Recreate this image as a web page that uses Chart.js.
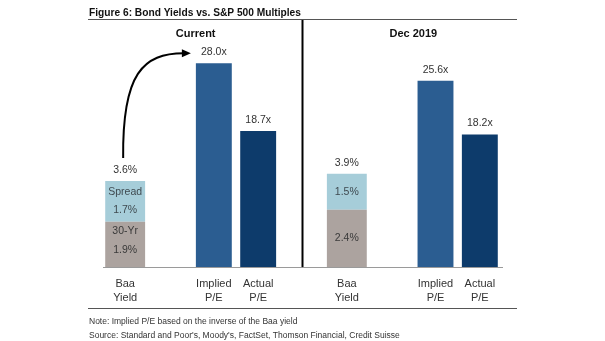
<!DOCTYPE html>
<html>
<head>
<meta charset="utf-8">
<script src="https://cdn.jsdelivr.net/npm/chart.js@4.4.1/dist/chart.umd.min.js"></script>
<style>
  html, body { margin: 0; padding: 0; background: #fff; }
  canvas { display: block; }
</style>
</head>
<body>
<canvas id="grafico" width="605" height="341"></canvas>
<script>
// bars sit in 9 slots, the empty ones give the gaps and the divider
const categorias = [['Baa', 'Yield'], '', ['Implied', 'P/E'], ['Actual', 'P/E'], '', ['Baa', 'Yield'], '', ['Implied', 'P/E'], ['Actual', 'P/E']];
const periodos = ['Current', 'Dec 2019'];

const treasury30 = [1.9, null, null, null, null, 2.4, null, null, null];
const spread     = [1.7, null, null, null, null, 1.5, null, null, null];
const impliedPE  = [null, null, 28.0, null, null, null, null, 25.6, null];
const actualPE   = [null, null, null, 18.7, null, null, null, null, 18.2];

// names written inside the stacked segments (only first group)
const nomeTreasury = ['30-Yr', null, null, null, null, null, null, null, null];
const nomeSpread   = ['Spread', null, null, null, null, null, null, null, null];

const titulo = 'Figure 6: Bond Yields vs. S&P 500 Multiples';
const notas = [
  'Note: Implied P/E based on the inverse of the Baa yield',
  "Source: Standard and Poor's, Moody's, FactSet, Thomson Financial, Credit Suisse"
];

const fonte = 'Arial, "Liberation Sans", sans-serif';

function escreve(ctx, txt, x, y, font, cor, align) {
  ctx.font = font;
  ctx.fillStyle = cor;
  ctx.textAlign = align || 'center';
  ctx.textBaseline = 'middle';
  ctx.fillText(txt, x, y);
}

const extras = {
  id: 'extras',
  afterDatasetsDraw(chart) {
    const ctx = chart.ctx;
    const area = chart.chartArea;
    const x = chart.scales.x;
    ctx.save();

    // title + rule
    escreve(ctx, titulo, 89, 13, 'bold 10.2px ' + fonte, '#111', 'left');
    ctx.strokeStyle = '#555';
    ctx.lineWidth = 1;
    ctx.beginPath(); ctx.moveTo(88, 19.5); ctx.lineTo(517, 19.5); ctx.stroke();

    // period headers
    escreve(ctx, periodos[0], (x.getPixelForValue(0) + x.getPixelForValue(3)) / 2 + 4, 34, 'bold 11px ' + fonte, '#111');
    escreve(ctx, periodos[1], (x.getPixelForValue(5) + x.getPixelForValue(8)) / 2, 34, 'bold 11px ' + fonte, '#111');

    // divider between the two periods
    const xd = x.getPixelForValue(4);
    ctx.strokeStyle = '#000';
    ctx.lineWidth = 2;
    ctx.beginPath(); ctx.moveTo(xd, 20); ctx.lineTo(xd, area.bottom); ctx.stroke();

    const m30 = chart.getDatasetMeta(0);
    const mSp = chart.getDatasetMeta(1);
    const mImp = chart.getDatasetMeta(2);
    const mAct = chart.getDatasetMeta(3);
    const fnt = '10.5px ' + fonte;

    // yield bars: segment labels and total
    treasury30.forEach((v, i) => {
      if (v == null) return;
      const b30 = m30.data[i], bSp = mSp.data[i];
      const c30 = (b30.y + b30.base) / 2;
      const cSp = (bSp.y + bSp.base) / 2;
      if (nomeTreasury[i]) {
        escreve(ctx, nomeTreasury[i], b30.x, c30 - 13, fnt, '#3a3a3a');
        escreve(ctx, v.toFixed(1) + '%', b30.x, c30 + 6, fnt, '#3a3a3a');
      } else {
        escreve(ctx, v.toFixed(1) + '%', b30.x, c30, fnt, '#3a3a3a');
      }
      if (nomeSpread[i]) {
        escreve(ctx, nomeSpread[i], bSp.x, cSp - 9, fnt, '#3f4a50');
        escreve(ctx, spread[i].toFixed(1) + '%', bSp.x, cSp + 9, fnt, '#3f4a50');
      } else {
        escreve(ctx, spread[i].toFixed(1) + '%', bSp.x, cSp, fnt, '#3f4a50');
      }
      const total = v + spread[i];
      escreve(ctx, total.toFixed(1) + '%', bSp.x, bSp.y - 11, fnt, '#333');
    });

    // P/E labels
    [[mImp, impliedPE], [mAct, actualPE]].forEach(([meta, vals]) => {
      vals.forEach((v, i) => {
        if (v == null) return;
        const b = meta.data[i];
        escreve(ctx, v.toFixed(1) + 'x', b.x, b.y - 11, fnt, '#333');
      });
    });

    // curved arrow from current yield to implied P/E
    const bTop = mSp.data[0];
    const bImp = mImp.data[2];
    const x0 = bTop.x - 2, y0 = bTop.y - 23;
    const x1 = bImp.x - bImp.width / 2 - 6, y1 = bImp.y - 10;
    ctx.strokeStyle = '#000';
    ctx.lineWidth = 2;
    ctx.beginPath();
    ctx.moveTo(x0, y0);
    ctx.bezierCurveTo(x0 - 1, y1 + 20, x0 + 20, y1, x1 - 6, y1);
    ctx.stroke();
    ctx.fillStyle = '#000';
    ctx.beginPath();
    ctx.moveTo(x1 + 1, y1);
    ctx.lineTo(x1 - 8, y1 - 4);
    ctx.lineTo(x1 - 8, y1 + 4);
    ctx.closePath();
    ctx.fill();

    // footer
    ctx.strokeStyle = '#555';
    ctx.lineWidth = 1;
    ctx.beginPath(); ctx.moveTo(88, 308.5); ctx.lineTo(517, 308.5); ctx.stroke();
    escreve(ctx, notas[0], 89, 322, '8.5px ' + fonte, '#333', 'left');
    escreve(ctx, notas[1], 89, 336, '8.5px ' + fonte, '#333', 'left');

    ctx.restore();
  }
};

new Chart(document.getElementById('grafico'), {
  type: 'bar',
  data: {
    labels: categorias,
    datasets: [
      { label: '30-Yr', data: treasury30, backgroundColor: '#aca39f', yAxisID: 'y', barPercentage: 0.9, categoryPercentage: 1 },
      { label: 'Spread', data: spread, backgroundColor: '#a6cdd9', yAxisID: 'y', barPercentage: 0.9, categoryPercentage: 1 },
      { label: 'Implied P/E', data: impliedPE, backgroundColor: '#2b5d91', yAxisID: 'y2', barPercentage: 0.81, categoryPercentage: 1 },
      { label: 'Actual P/E', data: actualPE, backgroundColor: '#0d3b6b', yAxisID: 'y2', barPercentage: 0.81, categoryPercentage: 1 }
    ]
  },
  options: {
    responsive: false,
    animation: false,
    devicePixelRatio: 1,
    layout: { padding: { left: 103, right: 103, top: 40, bottom: 26 } },
    plugins: {
      legend: { display: false },
      title: { display: false },
      tooltip: { enabled: false }
    },
    scales: {
      x: {
        stacked: true,
        grid: { display: false, drawTicks: false },
        border: { display: true, color: '#9a9a9a', width: 1 },
        ticks: {
          color: '#333',
          padding: 10,
          maxRotation: 0,
          autoSkip: false,
          font: { family: fonte, size: 11, lineHeight: 1.27 }
        }
      },
      y: { stacked: true, display: false, min: 0, max: 9.5 },
      y2: { stacked: true, display: false, min: 0, max: 31.2 }
    }
  },
  plugins: [extras]
});
</script>
</body>
</html>
